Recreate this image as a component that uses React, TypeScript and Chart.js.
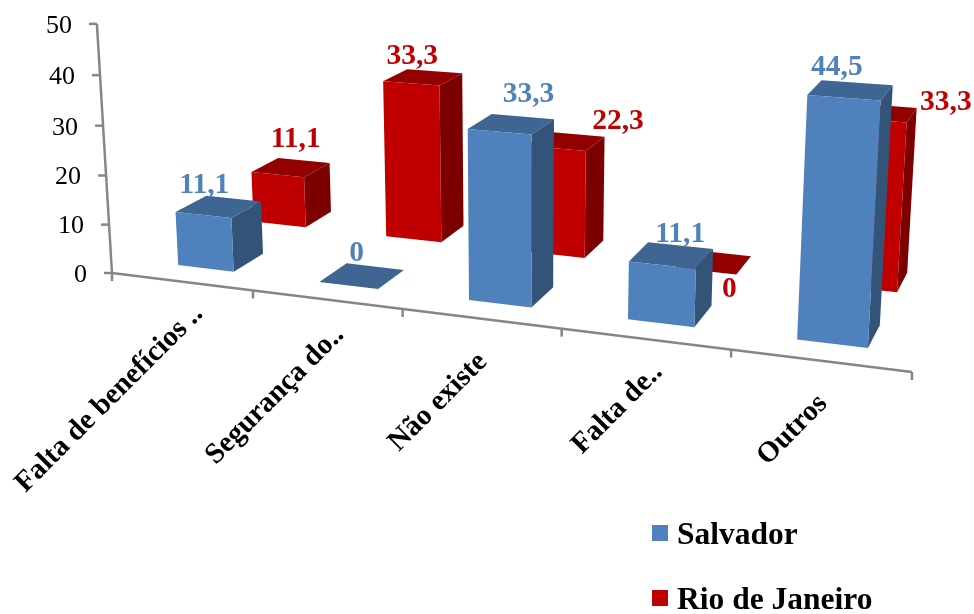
import { useEffect, useRef } from "react";
import { Chart, BarController, BarElement, CategoryScale, LinearScale } from "chart.js";

// Survey answers per city, shown as a perspective column chart.
const categories = ["Falta de benefícios ..", "Segurança do..", "Não existe", "Falta de..", "Outros"];
const salvador = [11.1, 0, 33.3, 11.1, 44.5];
const rioDeJaneiro = [11.1, 33.3, 22.3, 0, 33.3];
const seriesNames = ["Salvador", "Rio de Janeiro"];
const yTickStep = 10;
const yMax = 50;

// Face shades for each series: front, top, side.
const frontColors = ["#4F81BD", "#C00000"];
const topColors = ["#3F6592", "#920000"];
const sideColors = ["#335479", "#7C0000"];
const AXIS_COLOR = "#868686";
const SERIF = "'Liberation Serif'";

// Depth span of each series row on the chart floor.
const rowDepth = [[1, 2.4], [4.6, 6]];
// Small sideways offset of the boxes within their category slot.
const BOX_OFFSET = 0.013;

// Value-label offsets from the middle of a column's front top edge.
const valueLabelShift = [
  [[1, -22], [8, -25], [29, -30], [18, -23], [-7, -23]],
  [[18, -28], [1, -19], [62, -19], [24, 26], [73, -10]],
];
// Category-label offsets from the floor edge below each category.
const categoryLabelShift = [[17, 28], [13, 31], [2, 39], [13, 29], [3, 39]];

// Pinhole camera: category position u, depth d and value h to canvas pixels.
function project(u: number, d: number, h: number): [number, number] {
  const w = -0.02883 * u + 0.0217 * d - 7.14e-4 * h + 1;
  const x = (133.7 * u + 26.65 * d - 0.371 * h + 112) / w;
  const y = (9.07 * u - 7.42 * d - 5.0 * h + 273) / w;
  return [x, y];
}

function polygon(ctx: CanvasRenderingContext2D, points: [number, number][], fill: string) {
  ctx.beginPath();
  points.forEach(([x, y], i) => (i ? ctx.lineTo(x, y) : ctx.moveTo(x, y)));
  ctx.closePath();
  ctx.fillStyle = fill;
  ctx.fill();
}

function categoryPosition(chart: any, px: number) {
  const scale = chart.scales.x;
  return ((px - scale.left) / scale.width) * chart.data.labels.length + BOX_OFFSET;
}

// Bar controller that paints each element as a box seen through the camera.
class Box3DController extends BarController {
  static id = "box3d";
  static defaults = BarController.defaults;
  static overrides = BarController.overrides;

  draw() {
    const chart = this.chart as any;
    const ctx = chart.ctx;
    const row = this.index;
    const [d0, d1] = rowDepth[row];
    const yScale = chart.scales.y;
    for (const el of this.getMeta().data as any[]) {
      const u0 = categoryPosition(chart, el.x - el.width / 2);
      const u1 = categoryPosition(chart, el.x + el.width / 2);
      const h = yScale.getValueForPixel(el.y);
      polygon(ctx, [project(u0, d0, h), project(u1, d0, h), project(u1, d1, h), project(u0, d1, h)], topColors[row]);
      if (h > 0) {
        polygon(ctx, [project(u1, d0, 0), project(u1, d1, 0), project(u1, d1, h), project(u1, d0, h)], sideColors[row]);
        polygon(ctx, [project(u0, d0, 0), project(u1, d0, 0), project(u1, d0, h), project(u0, d0, h)], frontColors[row]);
      }
    }
  }
}

// Leaning value axis and slanted category axis, drawn under the boxes.
const axesPlugin = {
  id: "perspectiveAxes",
  beforeDatasetsDraw(chart: any) {
    const { ctx } = chart;
    const count = chart.data.labels.length;
    ctx.save();
    ctx.strokeStyle = AXIS_COLOR;
    ctx.lineWidth = 2.5;
    const segment = (a: [number, number], b: [number, number]) => {
      ctx.beginPath();
      ctx.moveTo(a[0], a[1]);
      ctx.lineTo(b[0], b[1]);
      ctx.stroke();
    };
    segment(project(0, 0, 0), project(0, 0, yMax));
    segment(project(0, 0, 0), project(count, 0, 0));
    ctx.font = `26px ${SERIF}`;
    ctx.fillStyle = "#000";
    ctx.textAlign = "right";
    ctx.textBaseline = "middle";
    for (const tick of chart.scales.y.ticks) {
      const [x, y] = project(0, 0, tick.value);
      segment([x - 8, y], [x, y]);
      ctx.fillText(String(tick.value), x - 25, y + 2);
    }
    for (let i = 0; i <= count; i++) {
      const [x, y] = project(i, 0, 0);
      segment([x, y], [x, y + 8]);
    }
    ctx.font = `bold 29px ${SERIF}`;
    categories.forEach((label, i) => {
      const [x, y] = project(i + 0.5, 0, 0);
      ctx.save();
      ctx.translate(x + categoryLabelShift[i][0], y + categoryLabelShift[i][1]);
      ctx.rotate(-Math.PI / 4);
      ctx.fillText(label, 0, 0);
      ctx.restore();
    });
    ctx.restore();
  },
  afterDatasetsDraw(chart: any) {
    const { ctx } = chart;
    ctx.save();
    // Value labels sit on top of every box.
    ctx.font = `bold 29.5px ${SERIF}`;
    ctx.textAlign = "center";
    ctx.textBaseline = "alphabetic";
    chart.data.datasets.forEach((dataset: any, row: number) => {
      ctx.fillStyle = frontColors[row];
      chart.getDatasetMeta(row).data.forEach((el: any, i: number) => {
        const u = categoryPosition(chart, el.x);
        const [x, y] = project(u, rowDepth[row][0], chart.scales.y.getValueForPixel(el.y));
        const [dx, dy] = valueLabelShift[row][i];
        ctx.fillText(String(dataset.data[i]).replace(".", ","), x + dx, y + dy);
      });
    });
    // Series key in the lower right corner.
    ctx.font = `bold 31.5px ${SERIF}`;
    ctx.textAlign = "left";
    chart.data.datasets.forEach((dataset: any, row: number) => {
      const top = 525 + row * 65;
      ctx.fillStyle = frontColors[row];
      ctx.fillRect(652, top, 16, 16);
      ctx.fillStyle = "#000";
      ctx.fillText(dataset.label, 677, top + 19);
    });
    ctx.restore();
  },
};

Chart.register(Box3DController, BarElement, CategoryScale, LinearScale);

export default function App() {
  const canvasRef = useRef<HTMLCanvasElement>(null);

  useEffect(() => {
    const chart = new Chart(canvasRef.current!, {
      type: "box3d" as any,
      data: {
        labels: categories,
        datasets: [salvador, rioDeJaneiro].map((data, row) => ({
          label: seriesNames[row],
          data,
          backgroundColor: frontColors[row],
          grouped: false,
          clip: false,
          barPercentage: 0.4,
          categoryPercentage: 1,
        })) as any,
      },
      options: {
        responsive: false,
        animation: false,
        layout: { padding: 0 },
        scales: {
          x: { type: "category", display: false, offset: true },
          y: { type: "linear", display: false, min: 0, max: yMax, ticks: { stepSize: yTickStep } },
        },
      },
      plugins: [axesPlugin],
    });
    return () => chart.destroy();
  }, []);

  return (
    <div style={{ position: "fixed", left: 0, top: 0, width: 974, height: 614, background: "#fff" }}>
      <canvas ref={canvasRef} width={974} height={614} style={{ display: "block" }} />
    </div>
  );
}
